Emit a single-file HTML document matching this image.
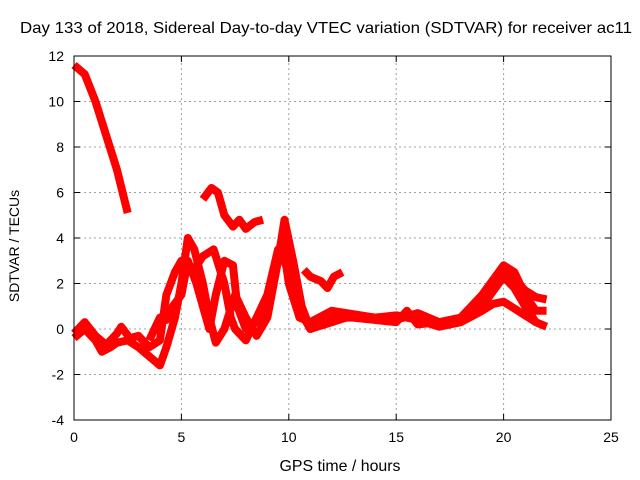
<!DOCTYPE html>
<html><head><meta charset="utf-8"><style>
body{margin:0;background:#fff}
svg{display:block;font-family:"Liberation Sans",sans-serif;font-size:14px}
</style></head><body>
<svg id="c" width="640" height="480">
<text x="326" y="33" text-anchor="middle" textLength="612" lengthAdjust="spacingAndGlyphs" style="font-size:16px">Day 133 of 2018, Sidereal Day-to-day VTEC variation (SDTVAR) for receiver ac11</text>
<text x="340" y="471" text-anchor="middle" textLength="121" lengthAdjust="spacingAndGlyphs" style="font-size:16px">GPS time / hours</text>
<text transform="translate(19,246) rotate(-90)" text-anchor="middle">SDTVAR / TECUs</text>
<g id="grid"></g><g id="ticks"></g><g id="data"></g>
<rect x="74" y="56" width="537" height="364" fill="none" stroke="#000"/>
</svg>
<script>
const xTicks=[0,5,10,15,20,25];
const yTicks=[-4,-2,0,2,4,6,8,10,12];
const traceA=[[0,11.6],[0.5,11.2],[1,10],[1.5,8.5],[2,7],[2.5,5.1]];
const traceB=[[6,5.7],[6.4,6.2],[6.7,6],[7,5],[7.4,4.5],[7.7,4.8],[8,4.4],[8.4,4.7],[8.8,4.8]];
const traceG=[[10.7,2.6],[11,2.3],[11.5,2.1],[11.8,1.8],[12.1,2.3],[12.5,2.5]];
const traceC=[[0,-0.4],[0.5,0],[1,-0.5],[1.3,-1],[1.7,-0.8],[2,-0.6],[2.5,-0.5],[3,-0.8],[3.5,-1.2],[4,-1.6],[4.3,-0.8],[4.7,0.5],[5,2],[5.3,4],[5.6,3.5],[6,2],[6.3,0.5],[6.6,-0.6],[7,0],[7.5,1.5],[8,0.5],[8.5,-0.3],[9,0.5],[9.5,3],[9.8,4.8],[10.2,3],[10.6,1],[11,0],[11.5,0.3],[12,0.5],[13,0.5],[14,0.4],[15,0.3],[15.5,0.8],[16,0.2],[17,0.3],[18,0.5],[19,1.5],[20,2.8],[20.5,2.5],[21,1.5],[21.5,0.8],[22,0.8]];
const traceD=[[0,-0.2],[0.5,0.3],[1,-0.3],[1.5,-0.7],[2,-0.2],[2.2,0.1],[2.6,-0.4],[3,-0.3],[3.5,-0.8],[4,-0.5],[4.3,1.5],[4.7,2.5],[5,3],[5.5,2.5],[6,3.2],[6.5,3.5],[7,2],[7.3,0.5],[7.5,0],[8,-0.5],[8.5,0.5],[9,1.5],[9.5,3.5],[9.8,3],[10.3,1.5],[10.7,0.5],[11,0],[12,0.3],[13,0.6],[14,0.5],[15,0.4],[16,0.7],[17,0.3],[18,0.3],[19,1],[20,2.3],[20.5,1.8],[21,1],[21.5,0.3],[22,0.1]];
const traceE=[[3.5,-0.5],[4,0.5],[4.3,0.4],[4.6,1],[5,1.5],[5.3,3],[5.7,2],[6,1],[6.3,0],[6.6,1.5],[7,3],[7.4,2.8],[7.6,1],[8,0],[8.5,0.3],[9,1],[9.3,2.5],[9.7,4],[10,2],[10.5,0.5],[11,0.3],[12,0.8],[14,0.5],[15,0.6],[16,0.4],[17,0.1],[18,0.3],[19,0.8],[19.5,1.1],[20,1.2],[20.5,0.9],[21,0.6],[21.5,0.3]];
const traceF=[[19,1.5],[20,2.5],[20.5,2.2],[21,1.7],[21.5,1.4],[22,1.3]];
const traces=[traceA,traceB,traceG,traceC,traceD,traceE,traceF];
const X0=74,X1=611,Y0=420,Y1=56;
function xs(v){return X0+(v-0)/(25-0)*(X1-X0);}
function ys(v){return Y0-(v+4)/(16)*(Y0-Y1);}
const NS="http://www.w3.org/2000/svg";
const grid=document.getElementById('grid'),tk=document.getElementById('ticks'),dg=document.getElementById('data');
function mk(tag,at,parent){const e=document.createElementNS(NS,tag);for(const k in at)e.setAttribute(k,at[k]);parent.appendChild(e);return e;}
xTicks.forEach(v=>{const x=xs(v);
 if(v>0&&v<25){const l=mk('line',{x1:x,x2:x,y1:Y0,y2:Y1,stroke:'#a0a0a0','stroke-dasharray':'2,3'},grid);
 
 }
 mk('line',{x1:x,x2:x,y1:Y0,y2:Y0-6,stroke:'#000'},tk);mk('line',{x1:x,x2:x,y1:Y1,y2:Y1+6,stroke:'#000'},tk);
 const t=mk('text',{x:x,y:Y0+22,'text-anchor':'middle'},tk);t.textContent=v;
 
 });
yTicks.forEach(v=>{const y=ys(v);
 if(v>-4&&v<12){const l=mk('line',{x1:X0,x2:X1,y1:y,y2:y,stroke:'#a0a0a0','stroke-dasharray':'2,3'},grid);
 
 }
 mk('line',{x1:X0,x2:X0+6,y1:y,y2:y,stroke:'#000'},tk);mk('line',{x1:X1,x2:X1-6,y1:y,y2:y,stroke:'#000'},tk);
 const t=mk('text',{x:X0-10,y:y+5,'text-anchor':'end'},tk);t.textContent=v;
 
 });
traces.forEach((tr,i)=>{
 const p=mk('polyline',{points:tr.map(d=>xs(d[0])+','+ys(d[1])).join(' '),fill:'none',stroke:'#f00','stroke-width':8,'stroke-linejoin':'round','stroke-linecap':'butt'},dg);
 
 
});
</script>
</body></html>
